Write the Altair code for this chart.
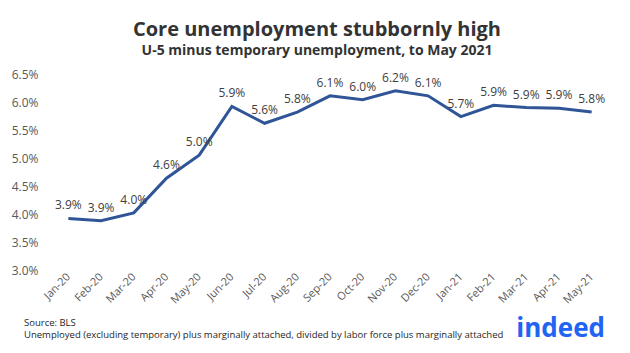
import altair as alt
import pandas as pd

months = ["Jan-20", "Feb-20", "Mar-20", "Apr-20", "May-20", "Jun-20", "Jul-20", "Aug-20",
          "Sep-20", "Oct-20", "Nov-20", "Dec-20", "Jan-21", "Feb-21", "Mar-21", "Apr-21", "May-21"]
rate_pct = [3.92, 3.88, 4.02, 4.64, 5.05, 5.92, 5.62, 5.82, 6.11, 6.04, 6.20, 6.11,
            5.74, 5.94, 5.90, 5.89, 5.82]
y_ticks = [3.0, 3.5, 4.0, 4.5, 5.0, 5.5, 6.0, 6.5]

title_text = "Core unemployment stubbornly high"
subtitle_text = "U-5 minus temporary unemployment, to May 2021"
source_text = "Source: BLS"
note_text = "Unemployed (excluding temporary) plus marginally attached, divided by labor force plus marginally attached"
logo_text = "indeed"

df = pd.DataFrame({"month": months, "rate": [v / 100 for v in rate_pct]})

FONT = "Open Sans"
W, H = 556, 196

x_enc = alt.X("month:O", sort=months,
              scale=alt.Scale(type="point", padding=0.5),
              axis=alt.Axis(title=None, labelAngle=-45, labelAlign="right", labelBaseline="middle",
                            labelPadding=5, ticks=False, tickSize=0, domain=False,
                            labelFontSize=11, labelColor="#595959", labelFont=FONT))
y_enc = alt.Y("rate:Q",
              scale=alt.Scale(domain=[0.03, 0.065], nice=False, zero=False),
              axis=alt.Axis(title=None, values=[round(v / 100, 4) for v in y_ticks], format=".1%",
                            grid=False, domain=False, ticks=False, tickSize=0, labelPadding=14,
                            labelOverlap=False, labelFlush=False,
                            labelFontSize=12, labelColor="#595959", labelFont=FONT))

base = alt.Chart(df)
line = base.mark_line(color="#2F5597", strokeWidth=3).encode(x=x_enc, y=y_enc)
labels = base.mark_text(dy=-13, fontSize=12, color="#404040", font=FONT).encode(
    x=x_enc, y=y_enc, text=alt.Text("rate:Q", format=".1%"))

foot = pd.DataFrame({"t": [0]})
src = alt.Chart(foot).mark_text(text=source_text, align="left", baseline="alphabetic",
                                fontSize=9.5, color="#262626", font=FONT).encode(
    x=alt.value(-28), y=alt.value(252))
note = alt.Chart(foot).mark_text(text=note_text, align="left", baseline="alphabetic",
                                 fontSize=9.5, color="#262626", font=FONT).encode(
    x=alt.value(-28), y=alt.value(264))
logo = alt.Chart(foot).mark_text(text=logo_text, align="right", baseline="alphabetic",
                                 fontSize=26, fontWeight="bold", color="#2164F3", font=FONT).encode(
    x=alt.value(553), y=alt.value(263))

chart = alt.layer(line, labels, src, note, logo).properties(
    width=W, height=H,
    title=alt.TitleParams(text=title_text, subtitle=subtitle_text, anchor="middle", frame="group",
                          dx=-13, offset=10, font=FONT, fontSize=20, fontWeight="bold", color="#333333",
                          subtitleFont=FONT, subtitleFontSize=14, subtitleFontWeight="bold",
                          subtitleColor="#333333", subtitlePadding=4),
    autosize=alt.AutoSizeParams(type="none"),
    padding={"left": 52, "top": 74, "right": 22, "bottom": 83},
    background="white",
).configure_view(stroke=None)

chart.save("out.html", embed_options={"renderer": "svg", "actions": False})
